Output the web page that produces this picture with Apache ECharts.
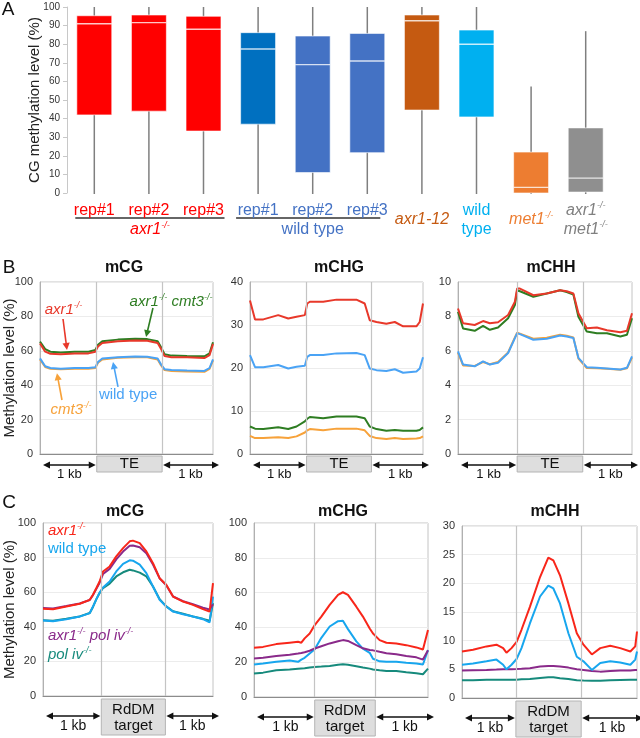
<!DOCTYPE html>
<html><head><meta charset="utf-8">
<script src="https://cdn.jsdelivr.net/npm/echarts@6/dist/echarts.min.js"></script>
<style>html,body{margin:0;padding:0;background:#fff}#c{width:640px;height:738px}</style>
</head><body><div id="c"></div>
<script>
// ---------- Panel A data (CG methylation boxplots) ----------
const boxCategories = ['axr1 rep#1','axr1 rep#2','axr1 rep#3','wt rep#1','wt rep#2','wt rep#3','axr1-12','wild type','met1','axr1 met1'];
const boxTickLabels = ['rep#1','rep#2','rep#3','rep#1','rep#2','rep#3','axr1-12','wild\ntype','met1-/-','axr1-/-\nmet1-/-'];
const boxMin    = [0, 0, 0, 0, 0, 0, 0, 0, 0, 0];
const boxQ1     = [42, 44, 33.3, 37, 11, 21.7, 44.6, 40.9, 0, 0.5];
const boxMedian = [91, 91.6, 88, 77.4, 69, 71, 92.6, 80, 3, 8];
const boxQ3     = [95.3, 95.7, 95, 86.2, 84.4, 85.8, 95.7, 87.6, 22, 35];
const boxMax    = [100, 100, 100, 100, 100, 100, 100, 100, 57.2, 87];
const groupLabels = ['axr1-/-', 'wild type'];

// ---------- Panel B data (TE profiles, position in % of plotted span) ----------
const teBounds = [[32.8, 70.6], [32.7, 70.2], [34, 71.7]];
const bCgPos = [0,3,6,12,20,28,32,33.5,36,45,55,62,68,70,72,76,85,95,98,100];
const bCgAxr1Cmt3 = [65.3,61,59.5,59,59.5,59.5,60.5,63.5,65.5,66.5,67,66.8,65.5,62,58,57.2,57,56.8,58.5,65];
const bCgAxr1 = [64.3,59.5,58.3,58,58.5,58.5,59.5,62.5,64.5,65.5,66,65.9,64.5,61,57,56.3,56.2,55.8,57.5,64];
const bCgWt = [55.6,51,50,49.6,50,50,50.5,53.5,55.5,56.3,56.7,56.6,55.5,52,49.3,48.8,48.5,48.3,50,55];
const bCgCmt3 = [55,50.6,49.6,49.2,49.6,49.6,50,53,55,55.9,56.3,56.2,55,51.5,48.8,48.3,48,47.8,49.5,54.5];

const bChgPos = [0,2.9,7.7,16.3,22.1,26.9,31.7,33.1,34.6,42.3,50,61.5,66.3,69.2,73.1,78.8,83.7,88.5,96.2,98.1,100];
const bChgAxr1 = [35.7,31.3,31.3,32.3,31.5,31.9,32.3,35,35.4,35.4,35.9,35.9,35,31.1,30.7,30.3,30.7,29.7,29.7,30.7,35];
const bChgWt = [23,20.2,20.2,20.7,19.9,20.3,20.5,22.6,23,23,23.4,23.5,23,19.9,19.5,19.3,19.7,18.9,19.2,19.9,22.5];
const bChgAxr1Cmt3 = [6.4,5.9,5.8,6.2,5.8,6.4,7.6,8.2,8.6,8.3,8.7,8.7,8.3,6.4,5.8,5.4,5.6,5.4,5.4,5.6,6.2];
const bChgCmt3 = [4.2,3.7,3.7,3.9,3.7,4.1,5,5.5,5.8,5.5,5.9,5.9,5.5,4.2,3.7,3.5,3.7,3.5,3.6,3.7,4.1];

const bChhPos = [0,2.9,9.6,14.4,18.3,23,28.8,32.7,34,35.6,43.3,51,58.7,62.5,66.3,69.2,74,79.8,85.6,93.3,97.1,100];
const bChhAxr1 = [8.46,7.6,7.5,7.73,7.6,7.66,8.08,8.85,9.62,9.62,9.23,9.33,9.52,9.46,9.33,8.18,7.31,7.35,7.2,7.08,7.16,8.18];
const bChhAxr1Cmt3 = [8.27,7.3,7.16,7.45,7.22,7.35,7.89,8.66,9.52,9.46,9.14,9.33,9.52,9.42,9.27,7.98,7.12,7.02,7.02,6.83,6.93,7.89];
const bChhWt = [5.97,5.2,5.1,5.39,5.2,5.3,5.87,6.74,7.02,6.97,6.64,6.7,6.89,6.83,6.74,5.59,5.05,5.01,4.97,4.91,5.01,5.68];
const bChhCmt3 = [5.9,5.15,5.12,5.35,5.22,5.35,5.9,6.78,7.05,7.0,6.7,6.76,6.93,6.88,6.78,5.55,5.0,4.98,4.95,4.9,4.98,5.6];

// ---------- Panel C data (RdDM target profiles) ----------
const rddmBounds = [[34.3, 72], [34.9, 69.7], [30.8, 68.1]];
const cCgPos = [0,5.9,13.7,21.6,27.5,29.4,31.4,33.3,35.3,39.2,43.1,47.1,51,52.9,56.9,60.8,64.7,68.6,72.5,76.5,82.4,88.2,94.1,98,100];
const cCgAxr1 = [50.4,50.2,51.7,53.3,55.6,58.5,62.4,66.2,72,74.9,80.7,85.5,89.4,89.8,88.4,83.6,76.8,68.1,64.3,57.5,54.6,52.7,50.2,48.8,65.3];
const cCgAxr1PolIV = [50.8,50.6,52,53.5,55.5,58.3,62,65.5,70.5,73.5,79,83.5,86.8,87,86,82.5,76,68,64,57.5,54.8,53,51,50,53];
const cCgWt = [43.6,43.2,44.4,45.9,47.9,51.7,56,59.8,62.7,66.2,72,76.4,78.4,78.2,75.9,71,63.3,55.6,51.7,48.8,47.3,45.9,44.4,42.5,57.5];
const cCgPolIV = [43.8,43.5,44.6,46,48,51.5,56,59.5,62.4,65,69.1,71.5,73,72.6,71.3,69.1,63.3,56,51.8,49,47.5,46,44.6,43.5,53.7];

const cChgPos = [0,5.2,12.8,20.5,25.3,27.2,29.1,32,34.9,38.7,43.5,48.3,51.1,54,58.8,62.6,66.5,68.4,72.2,76.1,81.8,87.5,93.3,97.1,100];
const cChgAxr1 = [28.3,28.8,30.4,31.2,31.7,31.2,33.7,36.5,41.3,46.2,52.9,58.7,60.2,58.7,51.9,46.2,39.4,36.5,32.7,31.2,30.8,29.8,28.5,27.3,38.5];
const cChgAxr1PolIV = [22.1,22.5,23.5,24.3,25,25.3,25.7,26.6,27.9,29.2,30.8,32,32.7,32.2,29.8,28,27,26.8,26,25.2,24.6,23.6,22.8,21.5,26.9];
const cChgWt = [18.7,19.2,20.2,21,20.2,21.5,22.5,25,27.5,34,40.5,43.6,43.8,39,32,27.8,25.4,22,20.5,20.2,20.2,19.7,19.2,18.7,26.9];
const cChgPolIV = [13.5,14,15.4,15.8,16.3,16.4,16.5,17,17.3,17.5,17.8,18.5,18.8,18.5,17.7,17,16.3,15.8,15.4,15,15,14.2,13.6,13.1,16.3];

const cChhPos = [0,6.3,14,19.7,23.5,25.4,28.3,31.2,34,38.8,44.6,49.3,52.2,56,60.8,65.6,69.4,74.2,79,84.7,90.4,96.2,99,100];
const cChhAxr1 = [8.1,8.4,9,9.3,8.7,7.9,8.7,9.8,11.9,15.9,21.1,24.5,24,21.4,16.5,11.3,9.3,7.6,8.7,9.1,8.7,8.1,9,11.6];
const cChhWt = [5.8,6,6.4,6.7,5.8,5,5.8,6.8,8.7,13,17.7,19.6,19.1,16.5,11.3,7.2,6.4,4.9,6.1,6.4,6.2,5.8,6.7,8.1];
const cChhAxr1PolIV = [4.8,4.85,4.9,4.95,5,5,5,5.05,5.1,5.2,5.5,5.6,5.6,5.5,5.3,5,4.9,4.7,4.6,4.7,4.8,4.8,4.9,4.9];
const cChhPolIV = [3.1,3.1,3.2,3.2,3.2,3.2,3.2,3.2,3.25,3.3,3.5,3.6,3.6,3.45,3.3,3.1,3.05,3,3,3.1,3.15,3.2,3.2,3.2];

const panelTitles = ['mCG', 'mCHG', 'mCHH'];

// ---------- styles ----------
const FONT = '"Liberation Sans", Arial, Helvetica, sans-serif';
const boxColors = ['#ff0000','#ff0000','#ff0000','#0070c0','#4472c4','#4472c4','#c55a11','#00b0f0','#ed7d31','#8f8f8f'];
const labelColors = ['#ff0000','#ff0000','#ff0000','#4472c4','#4472c4','#4472c4','#c55a11','#00b0f0','#ed7d31','#808080'];
const labelItalic = [false,false,false,false,false,false,true,false,true,true];
const labelCentered = [false,false,false,false,false,false,true,false,true,false];
const colB = {axr1:'#e8382a', dbl:'#2e7d22', wt:'#4aa3f5', cmt3:'#f7a23a'};
const colC = {axr1:'#f8261a', wt:'#17a6ee', dbl:'#8a2a8a', pol:'#168a7c'};

function supRich(line, key) {
  const parts = line.split('-/-');
  let out = '';
  parts.forEach((p, j) => {
    if (p) out += '{' + key + '|' + p + '}';
    if (j < parts.length - 1) out += '{' + key + 'S|-/-}';
  });
  return out;
}
function richPair(key, color, italic, size, lh, supLh) {
  const o = {};
  o[key] = {color, fontStyle: italic ? 'italic' : 'normal', fontSize: size, lineHeight: lh, fontFamily: FONT, verticalAlign: 'middle'};
  o[key + 'S'] = {color, fontStyle: italic ? 'italic' : 'normal', fontSize: Math.round(size * 0.58), lineHeight: supLh, fontFamily: FONT, verticalAlign: 'top'};
  return o;
}
const axisRich = {gap: {fontSize: 4, lineHeight: 9.5}};
boxTickLabels.forEach((t, i) => {
  Object.assign(axisRich, richPair('k' + i, labelColors[i], labelItalic[i], 16, 19, 10));
});

function zip(xs, ys) { return xs.map((x, i) => [x, ys[i]]); }

const bGrids = [
  {left: 40, top: 282, width: 173, height: 172},
  {left: 250, top: 282, width: 173, height: 172},
  {left: 458, top: 282, width: 174, height: 172}
];
const cGrids = [
  {left: 43, top: 523, width: 170, height: 173},
  {left: 254, top: 523, width: 174, height: 174},
  {left: 462, top: 526, width: 175, height: 172}
];
const grids = [{left: 67, top: 7, width: 546, height: 186, outerBoundsMode: 'none'}]
  .concat(bGrids.concat(cGrids).map(g => Object.assign({show: true, borderColor: '#c4c4c4', borderWidth: 1, outerBoundsMode: 'none'}, g)));

const xAxes = [{
  type: 'category', gridIndex: 0, data: boxCategories,
  axisLine: {show: false}, axisTick: {show: false},
  axisLabel: {interval: 0, margin: 8, rich: axisRich,
    formatter: (v, i) => (labelCentered[i] ? '{gap| }\n' : '') + boxTickLabels[i].split('\n').map(l => supRich(l, 'k' + i)).join('\n')}
}];
for (let g = 1; g <= 6; g++) {
  xAxes.push({type: 'value', gridIndex: g, min: 0, max: 100, axisLabel: {show: false}, axisTick: {show: false},
    splitLine: {show: false}, axisLine: {show: true, lineStyle: {color: '#8c8c8c', width: 1}}});
}
const yRanges = [[0,100,10],[0,100,20],[0,40,10],[0,10,2],[0,100,20],[0,100,20],[0,30,5]];
const yNameGaps = [25, 23, 0, 0, 26, 0, 0];
const yAxes = yRanges.map((r, g) => {
  const a = {type: 'value', gridIndex: g, min: r[0], max: r[1], interval: r[2],
    axisLine: {show: true, lineStyle: {color: g === 0 ? '#c8c8c8' : '#b0b0b0'}},
    axisTick: {show: g === 0, length: 4, lineStyle: {color: '#c8c8c8'}},
    axisLabel: {fontSize: g === 0 ? 10 : 11, color: '#333', fontFamily: FONT, margin: 7},
    splitLine: {show: g !== 0, lineStyle: {color: '#ececec', width: 1}}};
  if (g === 0 || g === 1 || g === 4) {
    a.name = g === 0 ? 'CG methylation level (%)' : 'Methylation level (%)';
    a.nameLocation = 'middle';
    a.nameGap = yNameGaps[g];
    a.nameMoveOverlap = false;
    a.nameTextStyle = {fontSize: 15, color: '#222', fontFamily: FONT};
  }
  return a;
});

function lineSeries(g, pos, vals, color, bounds) {
  const s = {type: 'line', xAxisIndex: g, yAxisIndex: g, data: zip(pos, vals), showSymbol: false, symbol: 'none',
    lineStyle: {color, width: 2}, itemStyle: {color}, silent: true, animation: false};
  if (bounds) {
    s.markLine = {silent: true, symbol: 'none', label: {show: false}, animation: false,
      lineStyle: {color: '#c4c4c4', type: 'solid', width: 1.2},
      data: bounds.map(b => ({xAxis: b}))};
  }
  return s;
}

const series = [{
  type: 'custom', xAxisIndex: 0, yAxisIndex: 0, animation: false, silent: true,
  data: boxCategories.map((c, i) => [i, boxMin[i], boxQ1[i], boxMedian[i], boxQ3[i], boxMax[i]]),
  encode: {x: 0, y: [1, 2, 3, 4, 5]},
  renderItem: (params, api) => {
    const i = api.value(0);
    const xc = api.coord([i, 0])[0];
    const w = api.size([1, 0])[0] * 0.64;
    const yMin = api.coord([i, api.value(1)])[1];
    const yQ1 = api.coord([i, api.value(2)])[1];
    const yMed = api.coord([i, api.value(3)])[1];
    const yQ3 = api.coord([i, api.value(4)])[1];
    const yMax = api.coord([i, api.value(5)])[1];
    return {type: 'group', children: [
      {type: 'line', shape: {x1: xc, y1: yMax, x2: xc, y2: yMin + 1}, style: {stroke: '#7f7f7f', lineWidth: 1.5}},
      {type: 'rect', shape: {x: xc - w / 2, y: yQ3, width: w, height: Math.max(yQ1 - yQ3, 1)}, style: {fill: boxColors[i], stroke: 'rgba(255,255,255,0.6)', lineWidth: 1}},
      {type: 'line', shape: {x1: xc - w / 2, y1: yMed, x2: xc + w / 2, y2: yMed}, style: {stroke: 'rgba(255,255,255,0.78)', lineWidth: 1.4}}
    ]};
  }
},
  lineSeries(1, bCgPos, bCgCmt3, colB.cmt3, teBounds[0]),
  lineSeries(1, bCgPos, bCgWt, colB.wt),
  lineSeries(1, bCgPos, bCgAxr1Cmt3, colB.dbl),
  lineSeries(1, bCgPos, bCgAxr1, colB.axr1),
  lineSeries(2, bChgPos, bChgCmt3, colB.cmt3, teBounds[1]),
  lineSeries(2, bChgPos, bChgAxr1Cmt3, colB.dbl),
  lineSeries(2, bChgPos, bChgWt, colB.wt),
  lineSeries(2, bChgPos, bChgAxr1, colB.axr1),
  lineSeries(3, bChhPos, bChhCmt3, colB.cmt3, teBounds[2]),
  lineSeries(3, bChhPos, bChhWt, colB.wt),
  lineSeries(3, bChhPos, bChhAxr1Cmt3, colB.dbl),
  lineSeries(3, bChhPos, bChhAxr1, colB.axr1),
  lineSeries(4, cCgPos, cCgPolIV, colC.pol, rddmBounds[0]),
  lineSeries(4, cCgPos, cCgWt, colC.wt),
  lineSeries(4, cCgPos, cCgAxr1PolIV, colC.dbl),
  lineSeries(4, cCgPos, cCgAxr1, colC.axr1),
  lineSeries(5, cChgPos, cChgPolIV, colC.pol, rddmBounds[1]),
  lineSeries(5, cChgPos, cChgWt, colC.wt),
  lineSeries(5, cChgPos, cChgAxr1PolIV, colC.dbl),
  lineSeries(5, cChgPos, cChgAxr1, colC.axr1),
  lineSeries(6, cChhPos, cChhPolIV, colC.pol, rddmBounds[2]),
  lineSeries(6, cChhPos, cChhAxr1PolIV, colC.dbl),
  lineSeries(6, cChhPos, cChhWt, colC.wt),
  lineSeries(6, cChhPos, cChhAxr1, colC.axr1)
];

const chart = echarts.init(document.getElementById('c'), null, {renderer: 'canvas', width: 640, height: 738});
chart.setOption({animation: false, backgroundColor: '#fff', grid: grids, xAxis: xAxes, yAxis: yAxes, series});

// ---------- annotations ----------
function P(g, x, y) { return chart.convertToPixel({gridIndex: g}, [x, y]); }
function txt(x, y, text, opts) {
  const o = opts || {};
  const key = o.key || 't';
  const rich = richPair(key, o.color || '#111', !!o.italic, o.size || 15, o.lh || 18, o.supLh || 9);
  if (o.bold) { rich[key].fontWeight = 'bold'; }
  return {type: 'text', x, y, silent: true, z: 100,
    style: {text: text.split('\n').map(l => supRich(l, key)).join('\n'), rich, align: o.align || 'center', verticalAlign: 'middle', fill: o.color || '#111', fontFamily: FONT}};
}
function head(xt, yt, xf, yf, color, len, hw) {
  const dx = xt - xf, dy = yt - yf, L = Math.hypot(dx, dy), ux = dx / L, uy = dy / L;
  const bx = xt - ux * len, by = yt - uy * len;
  return {type: 'polygon', silent: true, z: 100, shape: {points: [[xt, yt], [bx - uy * hw, by + ux * hw], [bx + uy * hw, by - ux * hw]]}, style: {fill: color}};
}
function arrow(x1, y1, x2, y2, color, both, lw) {
  const len = 7, hw = 3.6;
  const dx = x2 - x1, dy = y2 - y1, L = Math.hypot(dx, dy), ux = dx / L, uy = dy / L;
  const sx = both ? x1 + ux * (len - 1) : x1, sy = both ? y1 + uy * (len - 1) : y1;
  const out = [{type: 'line', silent: true, z: 100, shape: {x1: sx, y1: sy, x2: x2 - ux * (len - 1), y2: y2 - uy * (len - 1)}, style: {stroke: color, lineWidth: lw || 1.5}},
    head(x2, y2, x1, y1, color, len, hw)];
  if (both) out.push(head(x1, y1, x2, y2, color, len, hw));
  return out;
}

const G = [];
// panel letters
G.push(txt(8, 10, 'A', {size: 19}));
G.push(txt(9, 268, 'B', {size: 19}));
G.push(txt(9, 503, 'C', {size: 19}));
// panel titles
const bTitleX = [124, 339, 551], cTitleX = [125, 343, 555];
panelTitles.forEach((t, k) => {
  G.push(txt(bTitleX[k], 268, t, {size: 16, bold: true}));
  G.push(txt(cTitleX[k], 512, t, {size: 16, bold: true}));
});
// Panel A group underlines and labels
const a0 = P(0, 0, 0), a2 = P(0, 2, 0), a3 = P(0, 3, 0), a5 = P(0, 5, 0), a1 = P(0, 1, 0), a4 = P(0, 4, 0);
const yBase = a0[1];
G.push({type: 'line', silent: true, shape: {x1: a0[0] - 19, y1: yBase + 25, x2: a2[0] + 21, y2: yBase + 25}, style: {stroke: '#333', lineWidth: 1.5}});
G.push({type: 'line', silent: true, shape: {x1: a3[0] - 22, y1: yBase + 25, x2: a5[0] + 13, y2: yBase + 25}, style: {stroke: '#333', lineWidth: 1.5}});
G.push(txt(a1[0] + 1, yBase + 37, groupLabels[0], {color: '#ff0000', italic: true, size: 16}));
G.push(txt(a4[0], yBase + 37, groupLabels[1], {color: '#4472c4', size: 16}));

// B/C bottom region markers
function regionMarks(g, bounds, lines, isC) {
  const L = P(g, 0, 0), R = P(g, 100, 0), b1 = P(g, bounds[0], 0), b2 = P(g, bounds[1], 0);
  const y0 = L[1];
  const bh = isC ? 36 : 16, by = y0 + (isC ? 3 : 2), ay = y0 + (isC ? 20 : 11), ly = y0 + (isC ? 30 : 20);
  G.push({type: 'rect', silent: true, z: 90, shape: {x: b1[0], y: by, width: b2[0] - b1[0], height: bh}, style: {fill: '#dedede', stroke: '#b4b4b4', lineWidth: 1}});
  if (isC) {
    G.push(txt((b1[0] + b2[0]) / 2, by + 11, lines[0], {size: 15}));
    G.push(txt((b1[0] + b2[0]) / 2, by + 27, lines[1], {size: 15}));
  } else {
    G.push(txt((b1[0] + b2[0]) / 2, by + 8, lines[0], {size: 15}));
  }
  G.push(...arrow(L[0] + 3, ay, b1[0] - 1, ay, '#111', true, 1.5));
  G.push(...arrow(b2[0] + 1, ay, R[0] + 6, ay, '#111', true, 1.5));
  G.push(txt((L[0] + b1[0]) / 2 + 1, ly, '1 kb', {size: isC ? 14 : 13}));
  G.push(txt((b2[0] + R[0]) / 2 + 3, ly, '1 kb', {size: isC ? 14 : 13}));
}
for (let k = 0; k < 3; k++) {
  regionMarks(1 + k, teBounds[k], ['TE'], false);
  regionMarks(4 + k, rddmBounds[k], ['RdDM', 'target'], true);
}

// B mCG annotations (data coordinates)
function at(g, x, y) { return P(g, x, y); }
let p, q;
p = at(1, 13.6, 83.7); G.push(txt(p[0], p[1], 'axr1-/-', {color: colB.axr1, italic: true, size: 15}));
p = at(1, 13.3, 78.5); q = at(1, 15.6, 60.5); G.push(...arrow(p[0], p[1], q[0], q[1], colB.axr1, false, 1.6));
p = at(1, 75.7, 88.4); G.push(txt(p[0], p[1], 'axr1-/- cmt3-/-', {color: colB.dbl, italic: true, size: 15}));
p = at(1, 65.3, 84.9); q = at(1, 61.3, 68); G.push(...arrow(p[0], p[1], q[0], q[1], colB.dbl, false, 1.6));
p = at(1, 50.9, 34.3); G.push(txt(p[0], p[1], 'wild type', {color: colB.wt, size: 15}));
p = at(1, 45.1, 39); q = at(1, 42.2, 53.5); G.push(...arrow(p[0], p[1], q[0], q[1], colB.wt, false, 1.6));
p = at(1, 17.9, 25.6); G.push(txt(p[0], p[1], 'cmt3-/-', {color: colB.cmt3, italic: true, size: 15}));
p = at(1, 12.7, 31.4); q = at(1, 9.8, 47); G.push(...arrow(p[0], p[1], q[0], q[1], colB.cmt3, false, 1.6));

// C mCG legend-like labels
p = at(4, 2.9, 95.4); G.push(txt(p[0], p[1], 'axr1-/-', {color: colC.axr1, italic: true, size: 15, align: 'left'}));
p = at(4, 2.9, 85); G.push(txt(p[0], p[1], 'wild type', {color: colC.wt, size: 15, align: 'left'}));
p = at(4, 2.9, 34.7); G.push(txt(p[0], p[1], 'axr1-/- pol iv-/-', {color: colC.dbl, italic: true, size: 15, align: 'left'}));
p = at(4, 2.9, 23.7); G.push(txt(p[0], p[1], 'pol iv-/-', {color: colC.pol, italic: true, size: 15, align: 'left'}));

chart.setOption({graphic: {elements: G}});
</script></body></html>
